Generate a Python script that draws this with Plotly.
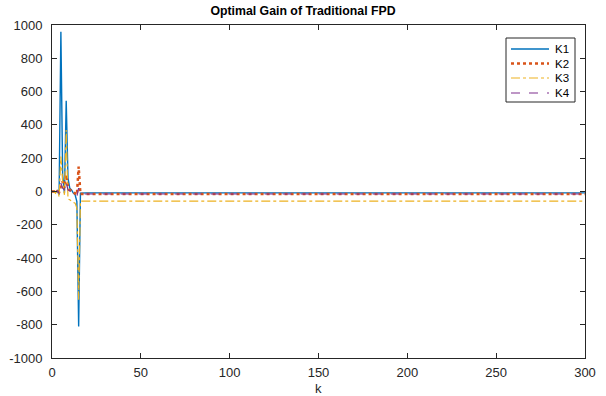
import plotly.graph_objects as go

k = list(range(0, 301))

# transient values (k = 0..16), then steady state
k1_head = [0, 0, -5, 5, -20, 960, 100, -10, 545, 80, 20, 10, -10, -20, -60, -810, -10]
k2_head = [0, 0, 0, 5, -5, 30, 60, 20, 100, 30, 10, 5, -5, -10, -20, 150, -15]
k3_head = [0, 0, -10, 10, -30, 210, 60, -20, 370, -45, -50, -60, -65, -70, -100, -650, -58]
k4_head = [0, 0, 0, 5, -10, 50, 20, 10, 55, 10, 0, -5, -10, -15, -30, 20, -15]

k1_ss, k2_ss, k3_ss, k4_ss = -8, -15, -58, -15
n_tail = len(k) - len(k1_head)
K1 = k1_head + [k1_ss] * n_tail
K2 = k2_head + [k2_ss] * n_tail
K3 = k3_head + [k3_ss] * n_tail
K4 = k4_head + [k4_ss] * n_tail

names = ["K1", "K2", "K3", "K4"]
series = [K1, K2, K3, K4]
colors = ["#0072BD", "#D95319", "#EDB120", "#7E2F8E"]
dashes = ["solid", "dot", "dashdot", "dash"]
widths = [1.4, 2.5, 1.2, 1.2]

xticks = [0, 50, 100, 150, 200, 250, 300]
yticks = [-1000, -800, -600, -400, -200, 0, 200, 400, 600, 800, 1000]

# plot area in pixels
L, R, T, B = 52, 585, 25, 358
W, H = 606, 396


def px(x):
    return (x - L) / (R - L)


def py(y):
    return (B - y) / (B - T)


fig = go.Figure()
for name, ys, c, d, w in zip(names, series, colors, dashes, widths):
    fig.add_trace(go.Scatter(x=k, y=ys, mode="lines", name=name, showlegend=False,
                             line=dict(color=c, width=w, dash=d)))

# manual legend (MATLAB-like compact box)
shapes = [dict(type="rect", xref="paper", yref="paper",
               x0=px(506), x1=px(575), y0=py(102), y1=py(38),
               line=dict(color="#262626", width=1), fillcolor="white", layer="above")]
annotations = []
row_y = [49, 63.5, 78, 93]
for name, c, d, w, yy in zip(names, colors, dashes, widths, row_y):
    shapes.append(dict(type="line", xref="paper", yref="paper",
                       x0=px(511), x1=px(549), y0=py(yy), y1=py(yy),
                       line=dict(color=c, width=w, dash=d), layer="above"))
    annotations.append(dict(text=name, xref="paper", yref="paper", x=px(553), y=py(yy),
                            xanchor="left", yanchor="middle", showarrow=False,
                            font=dict(size=11.5, color="black")))

# x-axis label
annotations.append(dict(text="k", xref="paper", yref="paper", x=0.5, y=py(388),
                        xanchor="center", yanchor="middle", showarrow=False,
                        font=dict(size=13, color="#262626")))

axis_common = dict(showgrid=False, zeroline=False, showline=True, linecolor="#262626",
                   linewidth=1, mirror="ticks", ticks="inside", ticklen=5,
                   tickcolor="#262626", automargin=False,
                   tickfont=dict(size=13, color="#262626", family="Liberation Sans, Arial"))

fig.update_layout(
    width=W, height=H,
    margin=dict(l=L, r=W - R, t=T, b=H - B, autoexpand=False),
    paper_bgcolor="white", plot_bgcolor="white",
    font=dict(family="Liberation Sans, Arial", color="#262626"),
    title=dict(text="<b>Optimal Gain of Traditional FPD</b>", x=0.5, xanchor="center",
               y=1 - 11 / H, yanchor="middle", font=dict(size=12.3, color="black")),
    xaxis=dict(range=[0, 300], tickvals=xticks, ticktext=[str(v) for v in xticks],
               ticklabelstandoff=2, **axis_common),
    yaxis=dict(range=[-1000, 1000], tickvals=yticks, ticktext=[str(v) for v in yticks],
               ticklabelstandoff=6, **axis_common),
    shapes=shapes,
    annotations=annotations,
    showlegend=False,
)

fig.write_html("out.html")
